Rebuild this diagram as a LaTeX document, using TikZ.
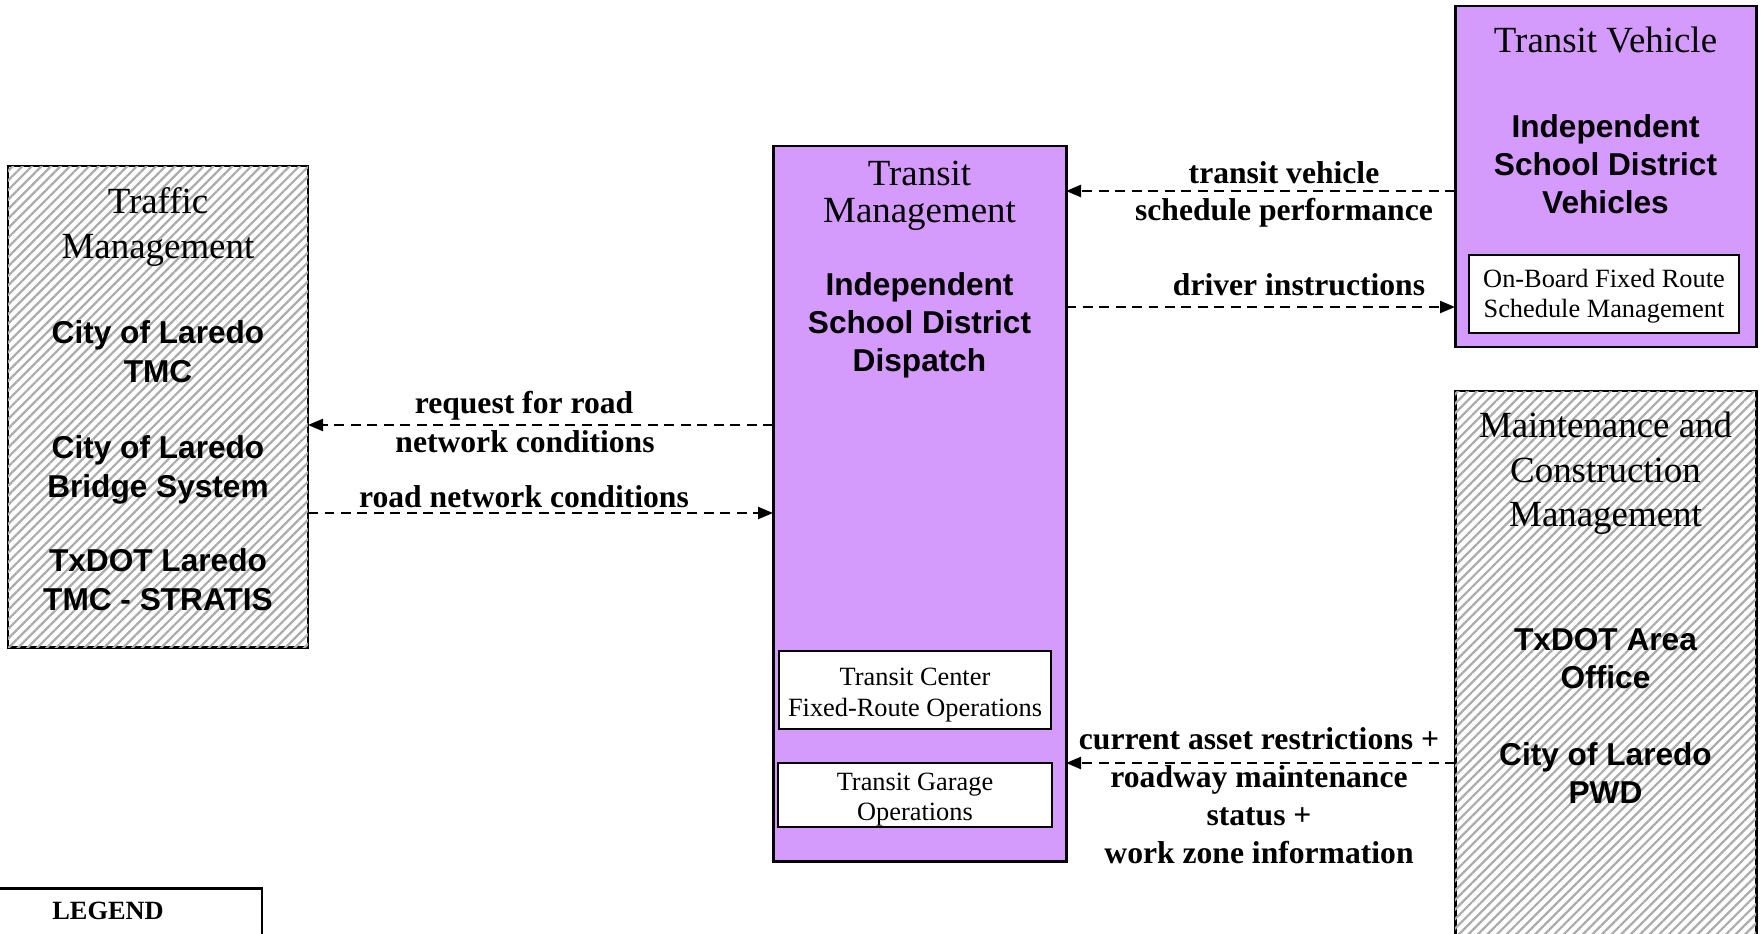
\documentclass[tikz,border=0pt]{standalone}
\usepackage{fontspec}
\setmainfont{Liberation Serif}
\newfontfamily\arialfont{Liberation Sans}
\usetikzlibrary{arrows.meta,patterns.meta}
\definecolor{tpurple}{RGB}{212,155,253}
\definecolor{hatchgray}{RGB}{172,172,172}
\tikzset{
  box/.style={draw=black, line width=1.7pt, inner sep=0pt, outer sep=0pt, anchor=north west},
  purplebox/.style={box, fill=tpurple},
  hatchbox/.style={box, fill=white, postaction={pattern={Lines[angle=45,distance=0.135cm,line width=0.045cm]}, pattern color=hatchgray}},
  subbox/.style={box, fill=white, line width=1.5pt},
  title/.style={anchor=base, inner sep=0pt, font=\fontsize{21}{25}\selectfont},
  org/.style={anchor=base, inner sep=0pt, font=\arialfont\bfseries\fontsize{18}{22}\selectfont},
  sub/.style={anchor=base, inner sep=0pt, font=\fontsize{15}{18}\selectfont},
  flowlbl/.style={anchor=base, inner sep=0pt, font=\bfseries\fontsize{18}{22}\selectfont},
  flow/.style={line width=1.3pt, dash pattern=on 0.2cm off 0.13cm, -{Triangle[length=0.3cm,width=0.24cm]}}
}
\begin{document}
\begin{tikzpicture}[x=0.02cm, y=-0.02cm]
\useasboundingbox (0,0) rectangle (1764,933);
\clip (0,0) rectangle (1764,933);

% main boxes
\node[hatchbox, minimum width={300*0.02cm}, minimum height={481*0.02cm}] (tmc) at (8,166) {};
\node[purplebox, minimum width={293*0.02cm}, minimum height={715*0.02cm}] (tm) at (773,146) {};
\node[purplebox, minimum width={301*0.02cm}, minimum height={341*0.02cm}] (tv) at (1455,6) {};
\node[hatchbox, minimum width={301*0.02cm}, minimum height={600*0.02cm}] (mc) at (1455,391) {};
\node[box, fill=white, minimum width={282*0.02cm}, minimum height={100*0.02cm}] (legend) at (-20,888) {};

% sub boxes
\node[subbox, minimum width={270*0.02cm}, minimum height={78*0.02cm}] (ob) at (1469,255) {};
\node[subbox, minimum width={272*0.02cm}, minimum height={78*0.02cm}] (tc) at (779,651) {};
\node[subbox, minimum width={274*0.02cm}, minimum height={64*0.02cm}] (tg) at (778,763) {};

% Traffic Management texts
\node[title] (tmc1) at (158,213) {Traffic};
\node[title] (tmc2) at (158,258) {Management};
\node[org] (tmc3) at (158,343) {City of Laredo};
\node[org] (tmc4) at (158,382) {TMC};
\node[org] (tmc5) at (158,458) {City of Laredo};
\node[org] (tmc6) at (158,497) {Bridge System};
\node[org] (tmc7) at (158,571) {TxDOT Laredo};
\node[org] (tmc8) at (158,610) {TMC - STRATIS};

% Transit Management texts
\node[title] (tm1) at (919.5,185) {Transit};
\node[title] (tm2) at (919.5,222) {Management};
\node[org] (tm3) at (919.5,295) {Independent};
\node[org] (tm4) at (919.5,333) {School District};
\node[org] (tm5) at (919.5,371) {Dispatch};
\node[sub] (tc1) at (915,685) {Transit Center};
\node[sub] (tc2) at (915,716) {Fixed-Route Operations};
\node[sub] (tg1) at (915,790) {Transit Garage};
\node[sub] (tg2) at (915,820) {Operations};

% Transit Vehicle texts
\node[title] (tv1) at (1605.5,52) {Transit Vehicle};
\node[org] (tv2) at (1605.5,137) {Independent};
\node[org] (tv3) at (1605.5,175) {School District};
\node[org] (tv4) at (1605.5,213) {Vehicles};
\node[sub] (ob1) at (1604,287) {On-Board Fixed Route};
\node[sub] (ob2) at (1604,317) {Schedule Management};

% Maintenance texts
\node[title] (mc1) at (1605.5,437) {Maintenance and};
\node[title] (mc2) at (1605.5,482) {Construction};
\node[title] (mc3) at (1605.5,526) {Management};
\node[org] (mc4) at (1605.5,650) {TxDOT Area};
\node[org] (mc5) at (1605.5,688) {Office};
\node[org] (mc6) at (1605.5,765) {City of Laredo};
\node[org] (mc7) at (1605.5,803) {PWD};

% legend
\node[anchor=base, inner sep=0pt, font=\bfseries\fontsize{15}{18}\selectfont] (lg1) at (108,919) {LEGEND};

% flow levels
\coordinate (f1) at (0,191);
\coordinate (f2) at (0,307);
\coordinate (f3) at (0,425);
\coordinate (f4) at (0,513);
\coordinate (f5) at (0,763);

\draw[flow] (tv.west |- f1) -- (tm.east |- f1);
\draw[flow] (tm.east |- f2) -- (tv.west |- f2);
\draw[flow] (tm.west |- f3) -- (tmc.east |- f3);
\draw[flow] (tmc.east |- f4) -- (tm.west |- f4);
\draw[flow] (mc.west |- f5) -- (tm.east |- f5);

% flow labels
\node[flowlbl] (l1a) at (1284,183) {transit vehicle};
\node[flowlbl] (l1b) at (1284,220) {schedule performance};
\node[flowlbl] (l2) at (1299,295) {driver instructions};
\node[flowlbl] (l3a) at (524,413) {request for road};
\node[flowlbl] (l3b) at (525,452) {network conditions};
\node[flowlbl] (l4) at (524,507) {road network conditions};
\node[flowlbl] (l5a) at (1259,749) {current asset restrictions +};
\node[flowlbl] (l5b) at (1259,787) {roadway maintenance};
\node[flowlbl] (l5c) at (1259,825) {status +};
\node[flowlbl] (l5d) at (1259,863) {work zone information};
\end{tikzpicture}
\end{document}
